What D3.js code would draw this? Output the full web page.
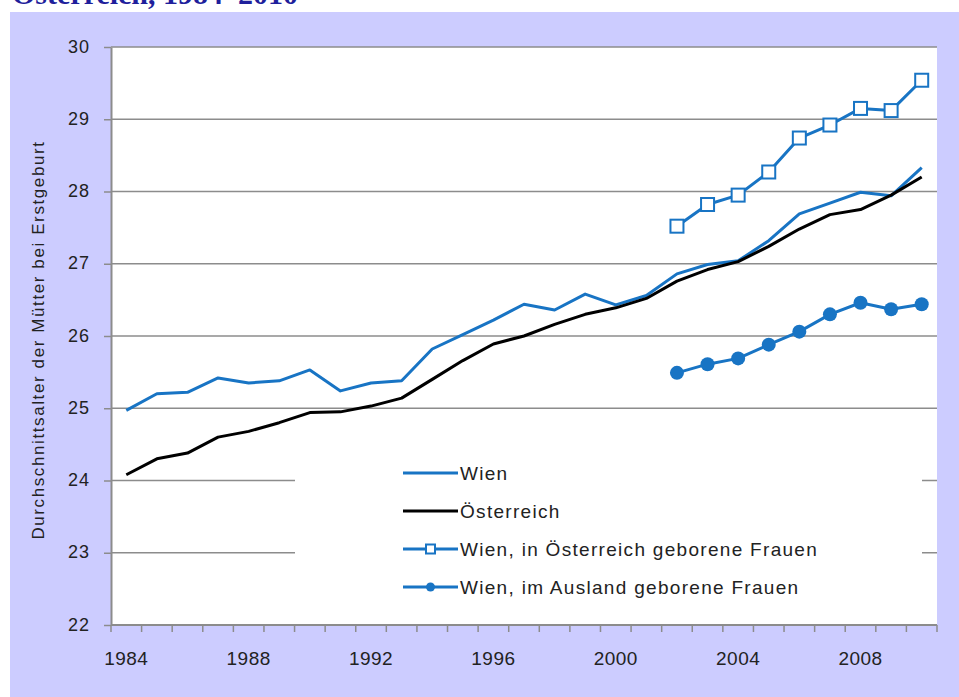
<!DOCTYPE html>
<html>
<head>
<meta charset="utf-8">
<script src="https://cdn.jsdelivr.net/npm/d3@7"></script>
<style>
  html, body { margin: 0; padding: 0; background: #fff; }
  svg { display: block; font-family: "Liberation Sans", Arial, sans-serif; }
</style>
</head>
<body>
<div id="chart"></div>
<script>
// categories
const years = [1984, 1985, 1986, 1987, 1988, 1989, 1990, 1991, 1992, 1993, 1994,
    1995, 1996, 1997, 1998, 1999, 2000, 2001, 2002, 2003, 2004, 2005, 2006,
    2007, 2008, 2009, 2010];
const splitYears = [2002, 2003, 2004, 2005, 2006, 2007, 2008, 2009, 2010];

// series values
const wien = [24.97, 25.2, 25.22, 25.42, 25.35, 25.38, 25.53, 25.24, 25.35, 25.38, 25.82,
    26.02, 26.22, 26.44, 26.36, 26.58, 26.43, 26.56, 26.86, 26.99, 27.04, 27.32, 27.69,
    27.84, 27.99, 27.94, 28.33];
const oesterreich = [24.08, 24.3, 24.38, 24.6, 24.68, 24.8, 24.94, 24.95, 25.03, 25.14, 25.4,
    25.66, 25.89, 26.0, 26.16, 26.3, 26.39, 26.52, 26.76, 26.92, 27.03, 27.24, 27.48,
    27.68, 27.75, 27.95, 28.2];
const wienInland = [27.52, 27.82, 27.95, 28.27, 28.74, 28.92, 29.15, 29.12, 29.54];
const wienAusland = [25.49, 25.61, 25.69, 25.88, 26.06, 26.3, 26.46, 26.37, 26.44];

// tick labels
const yTicks = [22, 23, 24, 25, 26, 27, 28, 29, 30];
const xLabels = [1984, 1988, 1992, 1996, 2000, 2004, 2008];

const title = "Österreich, 1984–2010";
const yTitle = "Durchschnittsalter der Mütter bei Erstgeburt";
const legendNames = ["Wien", "Österreich", "Wien, in Österreich geborene Frauen",
    "Wien, im Ausland geborene Frauen"];

const width = 959, height = 697;
const blue = "#1874c4";
const grid = "#8c8c8c";
const plot = {left: 111, right: 937, top: 47, bottom: 625};

let svg = d3.select("#chart")
    .append("svg")
    .attr("width", width)
    .attr("height", height);

// lavender panel
svg.append("rect")
    .attr("x", 10).attr("y", 12)
    .attr("width", width - 10).attr("height", height - 12)
    .attr("fill", "#ccccff");

// title, cut off at the top
svg.append("text")
    .attr("x", 12).attr("y", 4)
    .attr("font-family", "'Liberation Serif', 'Times New Roman', serif")
    .attr("font-weight", "bold")
    .attr("font-size", 30)
    .attr("fill", "#1f1f9c")
    .text(title);

svg.append("rect")
    .attr("x", plot.left).attr("y", plot.top)
    .attr("width", plot.right - plot.left).attr("height", plot.bottom - plot.top)
    .attr("fill", "#fff");

let x = d3.scaleBand()
    .domain(years)
    .range([plot.left, plot.right]);

let y = d3.scaleLinear()
    .domain([22, 30])
    .range([plot.bottom, plot.top]);

// gridlines
svg.append("g")
    .selectAll("line")
    .data(yTicks.filter(d => d > 22))
    .enter().append("line")
    .attr("x1", plot.left).attr("x2", plot.right)
    .attr("y1", d => y(d)).attr("y2", d => y(d))
    .attr("stroke", grid)
    .attr("stroke-width", 1.5);

// y axis
let yAxis = svg.append("g")
    .attr("transform", `translate(${plot.left},0)`)
    .call(d3.axisLeft(y).tickValues(yTicks).tickSize(7).tickSizeOuter(0).tickPadding(14));
yAxis.select(".domain").attr("stroke", grid).attr("stroke-width", 2);
yAxis.selectAll(".tick line").attr("stroke", grid).attr("stroke-width", 1.5);
yAxis.selectAll(".tick text")
    .attr("font-size", 18)
    .attr("letter-spacing", 1)
    .attr("fill", "#222")
    .attr("dy", "0.28em");

// x axis: ticks between categories
let xAxis = svg.append("g")
    .attr("transform", `translate(0,${plot.bottom})`);
xAxis.append("line")
    .attr("x1", plot.left).attr("x2", plot.right)
    .attr("stroke", grid).attr("stroke-width", 2);
xAxis.selectAll(".xtick")
    .data(years.concat([null]))
    .enter().append("line")
    .attr("class", "xtick")
    .attr("x1", (d, i) => plot.left + i * x.step())
    .attr("x2", (d, i) => plot.left + i * x.step())
    .attr("y1", 0).attr("y2", 7)
    .attr("stroke", grid).attr("stroke-width", 1.5);
xAxis.selectAll(".xlabel")
    .data(xLabels)
    .enter().append("text")
    .attr("class", "xlabel")
    .attr("x", d => x(d) + x.bandwidth() / 2)
    .attr("y", 40)
    .attr("text-anchor", "middle")
    .attr("font-size", 19)
    .attr("letter-spacing", 0.5)
    .attr("fill", "#222")
    .text(d => d);

// y axis title
svg.append("text")
    .attr("transform", "translate(44,340) rotate(-90)")
    .attr("text-anchor", "middle")
    .attr("font-size", 17)
    .attr("letter-spacing", 1.6)
    .attr("fill", "#222")
    .text(yTitle);

// legend background covers gridlines
svg.append("rect")
    .attr("x", 295).attr("y", 446)
    .attr("width", 627).attr("height", 160)
    .attr("fill", "#fff");

let cx = d => x(d) + x.bandwidth() / 2;
let line = d3.line()
    .x(d => cx(d[0]))
    .y(d => y(d[1]));

let zip = (xs, vs) => xs.map((v, i) => [v, vs[i]]);

let series = [
    {name: legendNames[0], color: blue, data: zip(years, wien), marker: null},
    {name: legendNames[1], color: "#000", data: zip(years, oesterreich), marker: null},
    {name: legendNames[2], color: blue, data: zip(splitYears, wienInland), marker: "square"},
    {name: legendNames[3], color: blue, data: zip(splitYears, wienAusland), marker: "circle"}
];

series.forEach(s => {
    svg.append("path")
        .datum(s.data)
        .attr("fill", "none")
        .attr("stroke", s.color)
        .attr("stroke-width", 3)
        .attr("stroke-linejoin", "round")
        .attr("d", line);
});

function drawMarker(g, type, px, py, big) {
    if (type === "square") {
        let h = big ? 6.5 : 4.5;
        g.append("rect")
            .attr("x", px - h).attr("y", py - h)
            .attr("width", 2 * h).attr("height", 2 * h)
            .attr("fill", "#fff")
            .attr("stroke", blue)
            .attr("stroke-width", 2);
    } else if (type === "circle") {
        g.append("circle")
            .attr("cx", px).attr("cy", py)
            .attr("r", big ? 7 : 4.5)
            .attr("fill", blue);
    }
}

series.filter(s => s.marker).forEach(s => {
    let g = svg.append("g");
    s.data.forEach(d => drawMarker(g, s.marker, cx(d[0]), y(d[1]), true));
});

// legend
let legend = svg.append("g");
series.forEach((s, i) => {
    let ly = 473 + i * 38;
    legend.append("line")
        .attr("x1", 403).attr("x2", 458)
        .attr("y1", ly).attr("y2", ly)
        .attr("stroke", s.color)
        .attr("stroke-width", 3);
    if (s.marker) drawMarker(legend, s.marker, 430.5, ly, false);
    legend.append("text")
        .attr("x", 460).attr("y", ly)
        .attr("dy", "0.36em")
        .attr("font-size", 19)
        .attr("letter-spacing", 1.3)
        .attr("fill", "#222")
        .text(s.name);
});
</script>
</body>
</html>
